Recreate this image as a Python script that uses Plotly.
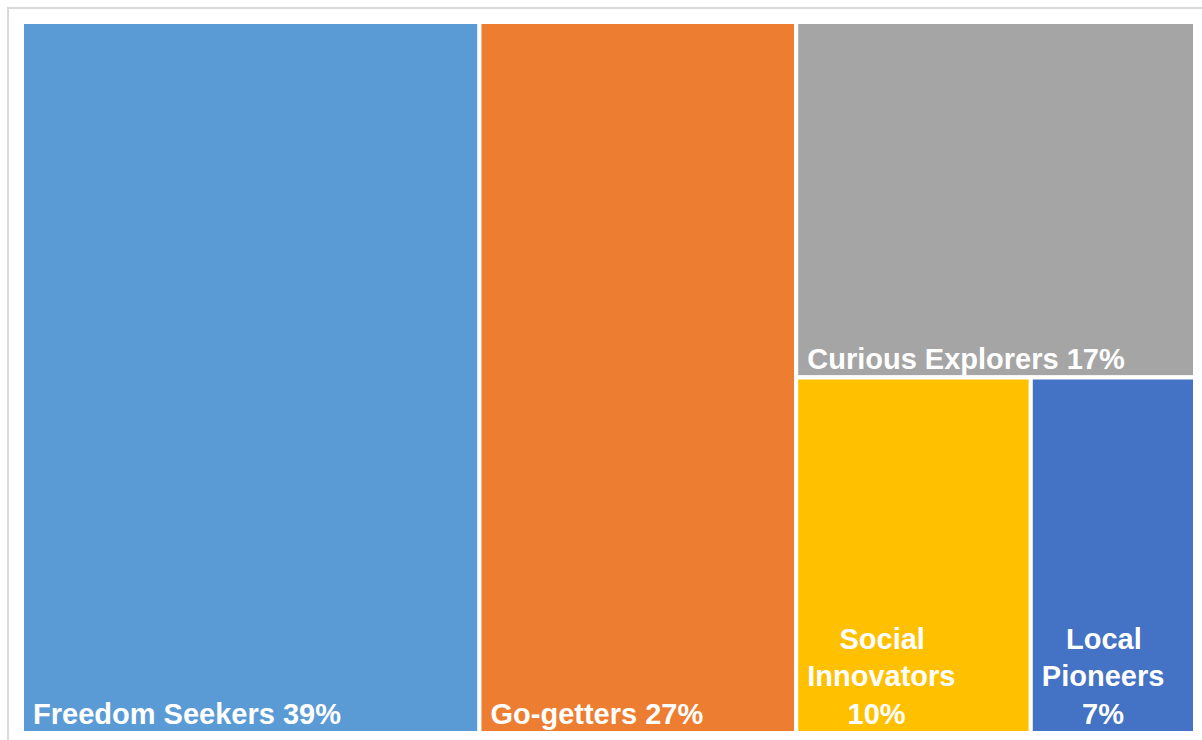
import plotly.graph_objects as go

# Segment shares (percent of respondents)
segments = ["Freedom Seekers", "Go-getters", "Curious Explorers", "Social Innovators", "Local Pioneers"]
shares = [39, 27, 17, 10, 7]
colors = ["#5B9BD5", "#ED7D31", "#A5A5A5", "#FFC000", "#4472C4"]

# Labels: a leading non-breaking space insets them from the tile edge;
# narrow tiles get their label broken over lines and centred with extra spaces
NB = "\u00a0"
label_text = [
    f"{NB}{segments[0]} {shares[0]}%",
    f"{NB}{segments[1]} {shares[1]}%",
    f"{NB}{segments[2]} {shares[2]}%",
    f"{NB*5}Social<br>{NB}Innovators<br>{NB*6}{shares[3]}%",
    f"{NB*4}Local<br>{NB}Pioneers<br>{NB*6}{shares[4]}%",
]

# Grouping that produces the column / row split of the tiles
ids = ["fs", "gg", "right", "ce", "lower", "si", "lp"]
parents = ["", "", "", "right", "right", "lower", "lower"]
values = [
    shares[0],
    shares[1],
    shares[2] + shares[3] + shares[4],
    shares[2],
    shares[3] + shares[4],
    shares[3],
    shares[4],
]
texts = [label_text[0], label_text[1], "", label_text[2], "", label_text[3], label_text[4]]
tile_colors = [colors[0], colors[1], "#FFFFFF", colors[2], "#FFFFFF", colors[3], colors[4]]

W, H = 1202, 740

fig = go.Figure(
    go.Treemap(
        ids=ids,
        labels=ids,
        parents=parents,
        values=values,
        text=texts,
        texttemplate="%{text}",
        textposition="bottom left",
        branchvalues="total",
        sort=False,
        marker=dict(
            colors=tile_colors,
            line=dict(color="#FFFFFF", width=4),
            pad=dict(t=0, l=0, r=0, b=0),
        ),
        tiling=dict(packing="slice-dice", pad=0),
        pathbar=dict(visible=False),
        textfont=dict(family="Liberation Sans, Arial, sans-serif", size=29,
                      color="#FFFFFF", weight="bold"),
        hoverinfo="skip",
        domain=dict(x=[22 / W, 1195 / W], y=[(H - 733) / H, (H - 22) / H]),
    )
)

# Light grey frame around the chart area
fig.add_shape(
    type="rect",
    xref="paper", yref="paper",
    x0=8 / W, x1=1.05, y0=-0.05, y1=(H - 8) / H,
    line=dict(color="#D9D9D9", width=2),
    fillcolor="rgba(0,0,0,0)",
    layer="below",
)

fig.update_layout(
    width=W,
    height=H,
    margin=dict(l=0, r=0, t=0, b=0),
    paper_bgcolor="#FFFFFF",
    plot_bgcolor="#FFFFFF",
    font=dict(family="Liberation Sans, Arial, sans-serif"),
    showlegend=False,
)

fig.write_html("out.html")
